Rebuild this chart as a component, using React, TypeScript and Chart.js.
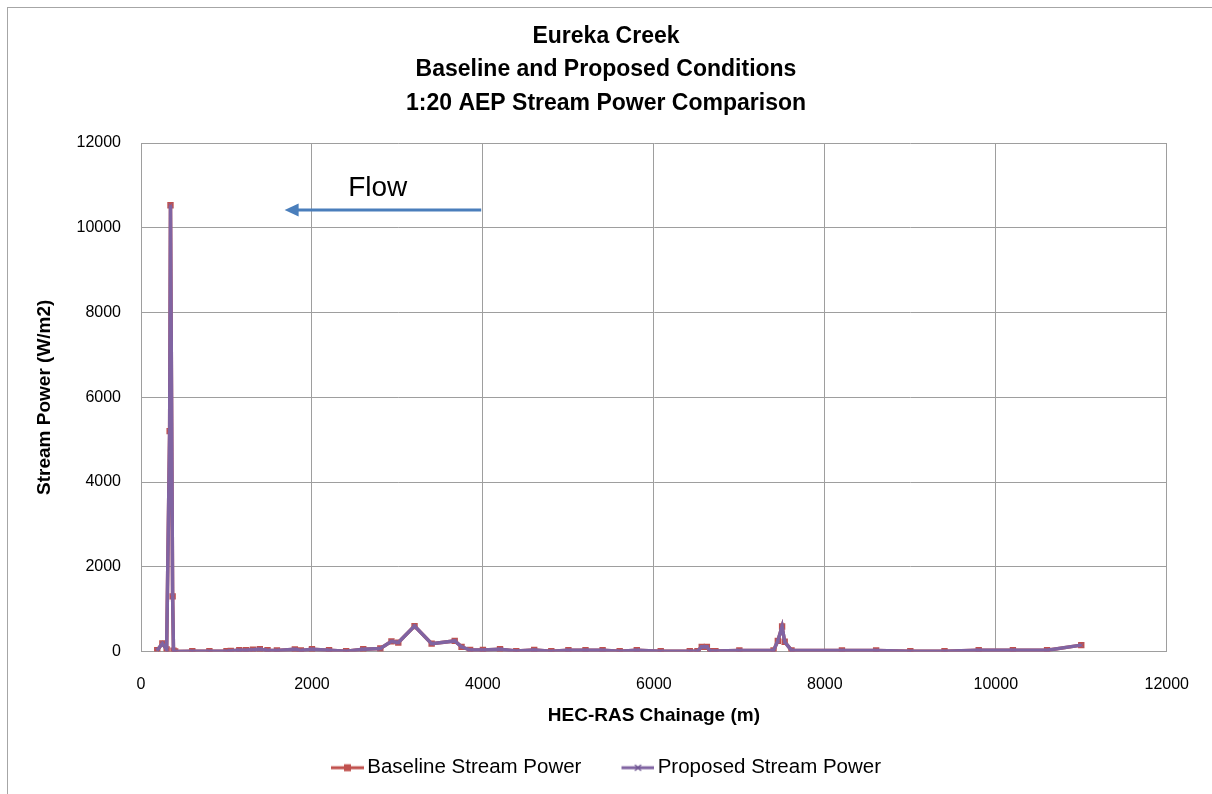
import React, { useEffect, useRef } from 'react';
import { Chart, registerables } from 'chart.js';

Chart.register(...registerables);

const TITLE_LINES = ['Eureka Creek', 'Baseline and Proposed Conditions', '1:20 AEP Stream Power Comparison'];
const X_AXIS_TITLE = 'HEC-RAS Chainage (m)';
const Y_AXIS_TITLE = 'Stream Power (W/m2)';
const SERIES_NAMES = ['Baseline Stream Power', 'Proposed Stream Power'];
const X_TICKS = [0, 2000, 4000, 6000, 8000, 10000, 12000];
const X_TICK_LABELS = ['0', '2000', '4000', '6000', '8000', '10000', '12000'];
const Y_TICKS = [0, 2000, 4000, 6000, 8000, 10000, 12000];
const Y_TICK_LABELS = ['0', '2000', '4000', '6000', '8000', '10000', '12000'];

const CHAINAGE = [
  190, 250, 300, 335, 345, 370, 380, 400, 600, 800,
  1000, 1050, 1150, 1230, 1310, 1390, 1480, 1590, 1800, 1870,
  2000, 2200, 2400, 2600, 2800, 2930, 3010, 3200, 3400, 3670,
  3750, 3850, 4000, 4200, 4390, 4600, 4800, 5000, 5200, 5400,
  5600, 5800, 6080, 6420, 6510, 6560, 6620, 6660, 6720, 7000,
  7400, 7450, 7500, 7530, 7610, 8200, 8600, 9000, 9400, 9800,
  10200, 10600, 11000,
];
const BASELINE = [
  30, 190, 50, 5200, 10530, 1300, 20, 0, 5, 5,
  5, 15, 30, 30, 40, 55, 30, 25, 50, 25,
  55, 30, 5, 55, 70, 240, 210, 600, 185, 250,
  110, 35, 35, 55, 10, 35, 5, 30, 30, 30,
  5, 30, 5, 5, 5, 110, 110, 10, 10, 25,
  25, 250, 590, 230, 25, 25, 25, 5, 5, 30,
  30, 30, 150,
];
const PROPOSED = [
  30, 190, 50, 5200, 10530, 1300, 20, 0, 5, 5,
  5, 15, 30, 30, 40, 55, 30, 25, 50, 25,
  55, 30, 5, 55, 70, 240, 210, 600, 185, 250,
  110, 35, 35, 55, 10, 35, 5, 30, 30, 30,
  5, 30, 5, 5, 5, 110, 110, 10, 10, 25,
  25, 250, 590, 230, 25, 25, 25, 5, 5, 30,
  30, 30, 150,
];

const FLOW_LABEL = 'Flow';
const FLOW_ARROW_FROM_X = 3980;
const FLOW_ARROW_TO_X = 1680;
const FLOW_ARROW_Y = 10420;
const FLOW_LABEL_X = 2770;
const FLOW_LABEL_Y = 10920;

const FONT = "'Liberation Sans', Arial, sans-serif";
const RED = '#C0504D';
const PURPLE = '#8064A2';
const GRID = '#9E9E9E';

function makeLegendIcon(color: string, marker: 'rect' | 'cross'): HTMLCanvasElement {
  const c = document.createElement('canvas');
  c.width = 40;
  c.height = 12;
  const ctx = c.getContext('2d')!;
  ctx.strokeStyle = color;
  ctx.lineWidth = 3;
  ctx.beginPath();
  ctx.moveTo(7, 6);
  ctx.lineTo(40, 6);
  ctx.stroke();
  if (marker === 'rect') {
    ctx.fillStyle = color;
    ctx.fillRect(23.5 - 3.5, 6 - 3.5, 7, 7);
  } else {
    ctx.lineWidth = 1.2;
    ctx.strokeStyle = '#6B5290';
    ctx.beginPath();
    ctx.moveTo(20.5, 3);
    ctx.lineTo(26.5, 9);
    ctx.moveTo(26.5, 3);
    ctx.lineTo(20.5, 9);
    ctx.stroke();
  }
  return c;
}

const flowPlugin = {
  id: 'flowArrow',
  afterDatasetsDraw(chart: any) {
    const { ctx, scales } = chart;
    const xs = scales.x;
    const ys = scales.y;
    const x1 = xs.getPixelForValue(FLOW_ARROW_FROM_X);
    const x2 = xs.getPixelForValue(FLOW_ARROW_TO_X);
    const yy = ys.getPixelForValue(FLOW_ARROW_Y);
    ctx.save();
    ctx.strokeStyle = '#4A7EBB';
    ctx.fillStyle = '#4A7EBB';
    ctx.lineWidth = 3;
    ctx.beginPath();
    ctx.moveTo(x1, yy);
    ctx.lineTo(x2 + 10, yy);
    ctx.stroke();
    ctx.beginPath();
    ctx.moveTo(x2, yy);
    ctx.lineTo(x2 + 14, yy - 6.5);
    ctx.lineTo(x2 + 14, yy + 6.5);
    ctx.closePath();
    ctx.fill();
    ctx.fillStyle = '#000';
    ctx.font = `28px ${FONT}`;
    ctx.textAlign = 'center';
    ctx.textBaseline = 'middle';
    ctx.fillText(FLOW_LABEL, xs.getPixelForValue(FLOW_LABEL_X), ys.getPixelForValue(FLOW_LABEL_Y));
    ctx.restore();
  },
};

export default function App() {
  const ref = useRef<HTMLCanvasElement>(null);

  useEffect(() => {
    if (!ref.current) return;
    const icons = [makeLegendIcon(RED, 'rect'), makeLegendIcon(PURPLE, 'cross')];
    const chart = new Chart(ref.current, {
      type: 'line',
      data: {
        datasets: [
          {
            label: SERIES_NAMES[0],
            data: CHAINAGE.map((x, i) => ({ x, y: BASELINE[i] })),
            borderColor: RED,
            backgroundColor: RED,
            borderWidth: 3.5,
            pointStyle: 'rect',
            pointRadius: 4.5,
            pointBorderWidth: 0,
            tension: 0,
            order: 1,
          },
          {
            label: SERIES_NAMES[1],
            data: CHAINAGE.map((x, i) => ({ x, y: PROPOSED[i] })),
            borderColor: PURPLE,
            backgroundColor: PURPLE,
            borderWidth: 3.5,
            pointStyle: 'crossRot',
            pointRadius: 3,
            pointBorderWidth: 1,
            tension: 0,
            order: 0,
          },
        ],
      },
      options: {
        responsive: false,
        animation: false,
        layout: { padding: { left: 0, right: 0, top: 0, bottom: 6 } },
        font: { family: FONT },
        plugins: {
          tooltip: { enabled: false },
          title: {
            display: true,
            text: TITLE_LINES,
            color: '#000',
            font: { family: FONT, size: 23, weight: 'bold', lineHeight: '33.5px' },
            padding: { top: 19.5, bottom: 23 },
          },
          legend: {
            display: true,
            position: 'bottom',
            labels: {
              color: '#000',
              font: { family: FONT, size: 20.5 },
              usePointStyle: true,
              pointStyleWidth: 26,
              padding: 40,
              generateLabels: () =>
                SERIES_NAMES.map((name, i) => ({
                  text: name,
                  pointStyle: icons[i],
                  fillStyle: i === 0 ? RED : PURPLE,
                  strokeStyle: i === 0 ? RED : PURPLE,
                  lineWidth: 0,
                  hidden: false,
                  datasetIndex: i,
                  fontColor: '#000',
                })),
            },
          },
        },
        scales: {
          x: {
            type: 'linear',
            min: 0,
            max: 12000,
            afterBuildTicks: (s: any) => {
              s.ticks = X_TICKS.map((v) => ({ value: v }));
            },
            afterFit: (s: any) => {
              s.height = 66;
            },
            ticks: {
              color: '#000',
              font: { family: FONT, size: 16 },
              padding: 23,
              maxRotation: 0,
              callback: (v: any) => X_TICK_LABELS[X_TICKS.indexOf(Number(v))] ?? '',
            },
            grid: { color: GRID, lineWidth: 1, drawTicks: false },
            border: { color: GRID, width: 1 },
            title: {
              display: true,
              text: X_AXIS_TITLE,
              color: '#000',
              font: { family: FONT, size: 19, weight: 'bold', lineHeight: '4px' },
              padding: { top: 0, bottom: 0 },
            },
          },
          y: {
            type: 'linear',
            min: 0,
            max: 12000,
            afterBuildTicks: (s: any) => {
              s.ticks = Y_TICKS.map((v) => ({ value: v }));
            },
            afterFit: (s: any) => {
              s.width = 141;
            },
            ticks: {
              color: '#000',
              font: { family: FONT, size: 16 },
              padding: 20,
              callback: (v: any) => Y_TICK_LABELS[Y_TICKS.indexOf(Number(v))] ?? '',
            },
            grid: { color: GRID, lineWidth: 1, drawTicks: false },
            border: { color: GRID, width: 1 },
            title: {
              display: true,
              text: Y_AXIS_TITLE,
              color: '#000',
              font: { family: FONT, size: 19, weight: 'bold' },
              padding: { top: 33.5, bottom: 0 },
            },
          },
          yRight: {
            type: 'linear',
            position: 'right',
            display: true,
            afterFit: (s: any) => {
              s.width = 44;
            },
            ticks: { display: false },
            grid: { display: false, drawTicks: false },
            border: { display: false },
          },
        },
      },
      plugins: [flowPlugin],
    } as any);
    return () => chart.destroy();
  }, []);

  return (
    <div style={{ position: 'fixed', left: 0, top: 0, width: 1212, height: 794, background: '#fff' }}>
      <canvas ref={ref} width={1212} height={794} style={{ position: 'absolute', left: 0, top: 0 }} />
      <div
        style={{
          position: 'absolute',
          left: 7,
          top: 7,
          width: 1205,
          height: 787,
          borderTop: '1px solid #A6A6A6',
          borderLeft: '1px solid #A6A6A6',
          boxSizing: 'border-box',
          pointerEvents: 'none',
        }}
      />
    </div>
  );
}
